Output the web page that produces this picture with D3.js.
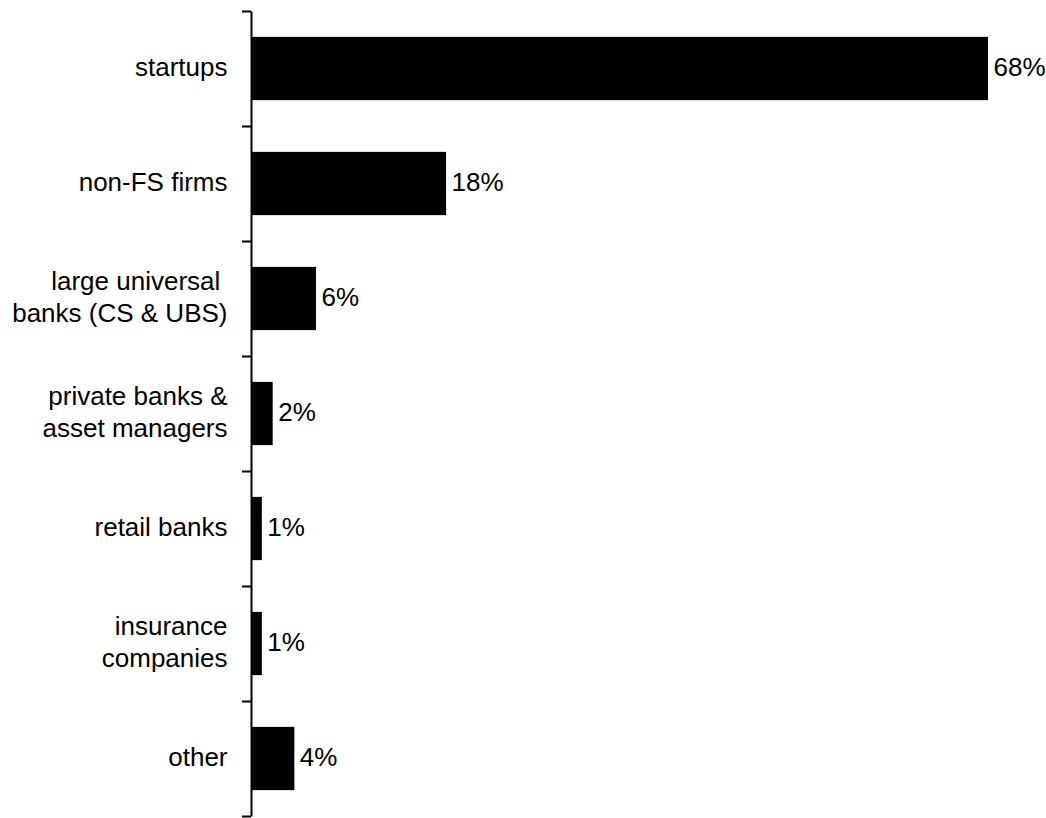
<!DOCTYPE html>
<html>
<head>
<meta charset="utf-8">
<script src="https://cdn.jsdelivr.net/npm/d3@7"></script>
<style>
  html, body { margin: 0; padding: 0; background: #ffffff; }
  svg { display: block; }
  text { font-family: "Liberation Sans", Arial, sans-serif; fill: #000; }
</style>
</head>
<body>
<svg id="chart" width="1046" height="818"></svg>
<script>
// Categories (each entry is the list of lines of its label) and their shares in %
const categories = [
  ["startups"],
  ["non-FS firms"],
  ["large universal\u00A0", "banks (CS & UBS)"],
  ["private banks &", "asset managers"],
  ["retail banks"],
  ["insurance", "companies"],
  ["other"]
];
const shares = [68, 18, 6, 2, 1, 1, 4];
const valueLabels = ["68%", "18%", "6%", "2%", "1%", "1%", "4%"];

const svg = d3.select("#chart");
const axisX = 251, plotTop = 11, plotBottom = 816;
const fontSize = 26, lineHeight = 31.5, baselineShift = 0.29;
const labelX = 227.5;

const keys = categories.map((c, i) => i);
const y = d3.scaleBand()
  .domain(keys)
  .range([plotTop, plotBottom])
  .paddingInner(0.45)
  .paddingOuter(0.225);

const x = d3.scaleLinear()
  .domain([0, 68])
  .range([axisX, 988]);

// Bars
svg.append("g").selectAll("rect")
  .data(shares)
  .join("rect")
  .attr("x", x(0))
  .attr("y", (d, i) => y(i))
  .attr("width", d => x(d) - x(0))
  .attr("height", y.bandwidth())
  .attr("fill", "#000");

// Vertical axis with ticks between the categories
const boundary = d3.scaleLinear().domain([0, categories.length]).range([plotTop, plotBottom]);
const axisG = svg.append("g")
  .attr("transform", `translate(${axisX},0)`)
  .call(d3.axisLeft(boundary)
    .tickValues(d3.range(categories.length + 1))
    .tickFormat("")
    .tickSizeInner(9)
    .tickSizeOuter(0));
axisG.selectAll("path, line").attr("stroke", "#000").attr("stroke-width", 2);

// Category labels
const labels = svg.append("g").selectAll("text")
  .data(categories)
  .join("text")
  .attr("text-anchor", "end")
  .attr("font-size", fontSize)
  .attr("x", labelX)
  .attr("y", (d, i) => y(i) + y.bandwidth() / 2);
labels.each(function(lines) {
  const t = d3.select(this);
  const start = -(lines.length - 1) * lineHeight / 2;
  lines.forEach((line, j) => {
    t.append("tspan")
      .attr("x", labelX)
      .attr("dy", j === 0 ? start + fontSize * baselineShift : lineHeight)
      .text(line);
  });
});

// Value labels at bar ends
svg.append("g").selectAll("text")
  .data(shares)
  .join("text")
  .attr("font-size", fontSize)
  .attr("x", d => x(d) + 5.5)
  .attr("y", (d, i) => y(i) + y.bandwidth() / 2)
  .attr("dy", fontSize * baselineShift)
  .text((d, i) => valueLabels[i]);
</script>
</body>
</html>
